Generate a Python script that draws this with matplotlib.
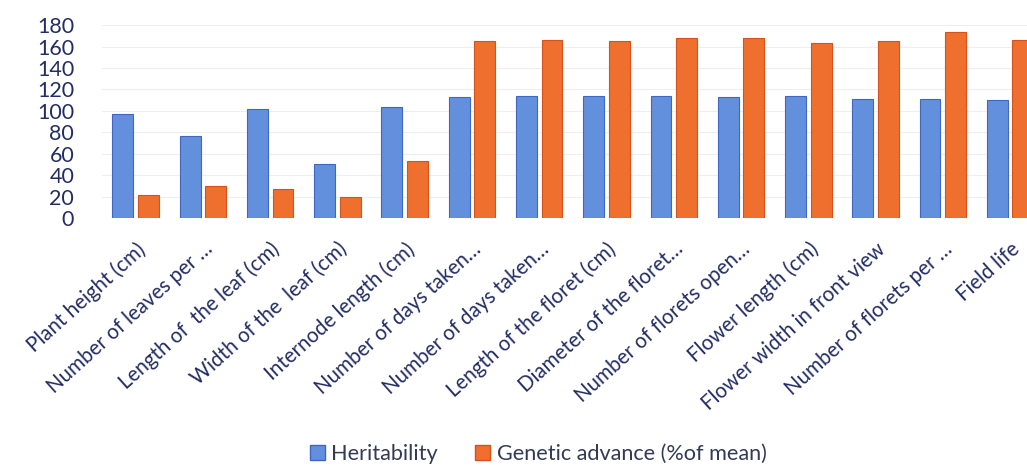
import matplotlib
matplotlib.use("Agg")
import matplotlib.pyplot as plt
from matplotlib.patches import Patch
import numpy as np

categories = [
    "Plant height (cm)",
    "Number of leaves per …",
    "Length of  the leaf (cm)",
    "Width of the  leaf (cm)",
    "Internode length (cm)",
    "Number of days taken…",
    "Number of days taken…",
    "Length of the floret (cm)",
    "Diameter of the floret…",
    "Number of florets open…",
    "Flower length (cm)",
    "Flower width in front view",
    "Number of florets per …",
    "Field life",
]
heritability = [97, 77, 102, 50, 104, 113, 114, 114, 114, 113, 114, 111, 111, 110]
genetic_advance = [22, 30, 27, 20, 53, 165, 166, 165, 168, 168, 163, 165, 174, 166]
yticks = [0, 20, 40, 60, 80, 100, 120, 140, 160, 180]
series_names = ["Heritability", "Genetic advance (%of mean)"]

plt.rcParams['font.family'] = ['Lato', 'DejaVu Sans']
text_col = "#232d63"
blue = "#6390dc"
blue_edge = "#3f66c4"
orange = "#ef6f2f"
orange_edge = "#d8501c"

fig = plt.figure(figsize=(10.27, 4.66), dpi=100)
ax = fig.add_axes([0.0993, 0.532, 0.917, 0.414])

x = np.arange(len(categories))
w = 0.31
off = 0.19
ax.bar(x - off, heritability, width=w, color=blue, edgecolor=blue_edge, linewidth=0.8, zorder=3)
ax.bar(x + off, genetic_advance, width=w, color=orange, edgecolor=orange_edge, linewidth=0.8, zorder=3)

ax.set_xlim(-0.5, len(categories) - 0.5)
ax.set_ylim(0, 180)
ax.set_yticks(yticks)
ax.set_yticklabels([str(v) for v in yticks], fontsize=15.5, color=text_col)
ax.yaxis.grid(True, color="#eeeeee", linewidth=0.8, zorder=0)
ax.set_xticks(x)
ax.set_xticklabels(categories, rotation=42, ha="right", rotation_mode="anchor",
                   fontsize=14.8, color=text_col)
ax.tick_params(axis="both", length=0)
ax.tick_params(axis="y", pad=20)
ax.tick_params(axis="x", pad=15)
for s in ax.spines.values():
    s.set_visible(False)

handles = [Patch(facecolor=blue, edgecolor=blue_edge), Patch(facecolor=orange, edgecolor=orange_edge)]
fig.legend(handles, series_names, loc="center", bbox_to_anchor=(0.524, 0.026), ncol=2,
           frameon=False, fontsize=15.6, handlelength=0.7, handleheight=0.7,
           handletextpad=0.3, columnspacing=1.7, labelcolor="#333a55")

fig.savefig("out.png", dpi=100)
